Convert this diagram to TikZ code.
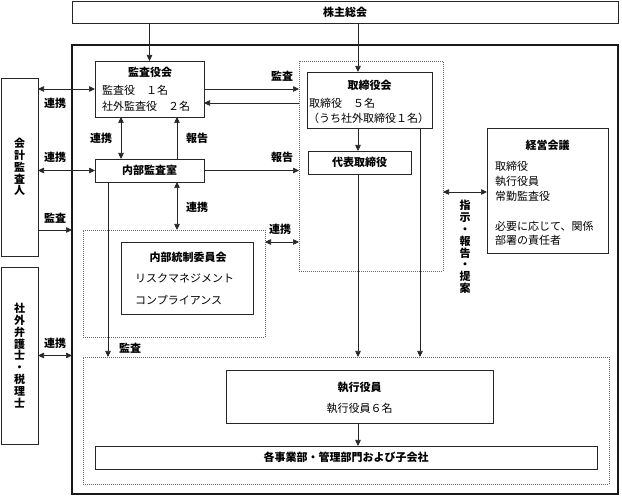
\documentclass[tikz,border=0pt]{standalone}
\usepackage{fontspec}
\setmainfont{Noto Sans CJK JP}
\usetikzlibrary{arrows.meta,calc}
\newcommand\myvtfont{\bfseries\fontsize{11}{11.8}\selectfont\lineskiplimit=-100pt\relax\lineskip=0pt\relax}
\tikzset{
  box/.style={draw=black!85, line width=0.7pt, inner sep=0pt, outer sep=0pt},
  bigbox/.style={draw=black!90, line width=1.6pt, inner sep=0pt, outer sep=0pt},
  dbox/.style={draw=black!60, line width=0.6pt, dash pattern=on 1pt off 1pt, inner sep=0pt, outer sep=0pt},
  tt/.style={font=\bfseries\fontsize{11}{13}\selectfont, inner sep=0pt},
  bt/.style={font=\fontsize{11}{13}\selectfont, inner sep=0pt, anchor=west},
  lab/.style={font=\bfseries\fontsize{11}{13}\selectfont, inner sep=0pt},
  vt/.style={font=\myvtfont, align=center, inner sep=0pt},
  conn/.style={draw=black!85, line width=0.7pt},
  arr/.style={conn, -{Triangle[length=6pt,width=5.5pt]}},
  darr/.style={conn, {Triangle[length=6pt,width=5.5pt]}-{Triangle[length=6pt,width=5.5pt]}},
}
\begin{document}
\begin{tikzpicture}[x=1pt,y=-1pt]
\useasboundingbox (0,0) rectangle (622,497);
% boxes
\node[box, minimum width=546pt, minimum height=22pt] (soukai) at (345,12) {};
\node[bigbox, minimum width=546pt, minimum height=449pt] (big) at (345,269.5) {};
\node[box, minimum width=37pt, minimum height=178pt] (kaikei) at (19.5,167) {};
\node[box, minimum width=37pt, minimum height=177pt] (bengo) at (19.5,355.5) {};
\node[box, minimum width=109pt, minimum height=56pt] (kansa) at (149.5,89) {};
\node[box, minimum width=109pt, minimum height=23pt] (naibu) at (149.5,170.5) {};
\node[dbox, minimum width=182pt, minimum height=107pt] (ictl) at (174,283.5) {};
\node[box, minimum width=132pt, minimum height=72pt] (iinkai) at (187,278) {};
\node[dbox, minimum width=144pt, minimum height=210pt] (tdash) at (371,166) {};
\node[box, minimum width=125pt, minimum height=56pt] (tori) at (369.5,100) {};
\node[box, minimum width=103pt, minimum height=23pt] (daihyo) at (359.5,162.5) {};
\node[box, minimum width=121pt, minimum height=125pt] (keiei) at (547.5,190.5) {};
\node[dbox, minimum width=526pt, minimum height=127pt] (exdash) at (346,420.5) {};
\node[box, minimum width=267pt, minimum height=53pt] (shikko) at (359.5,396.5) {};
\node[box, minimum width=502pt, minimum height=23pt] (kaku) at (346,457.5) {};
% helper coordinates
\coordinate (xA) at (358,0);
\coordinate (xB) at (420,0);
\coordinate (xC) at (121,0);
\coordinate (xD) at (177,0);
\coordinate (xF) at (108,0);
\coordinate (yA) at (0,230);
\coordinate (yB) at (0,103);
\coordinate (yC) at (0,242);
\coordinate (yD) at (0,192);
% texts in boxes
\node[tt] (tSoukai) at (345,12) {株主総会};
\node[tt] (tKansa) at (150,72) {監査役会};
\node[bt] (tKansa1) at (102,90) {監査役　１名};
\node[bt] (tKansa2) at (102,106) {社外監査役　２名};
\node[tt] (tNaibu) at (149.5,170.5) {内部監査室};
\node[tt] (tIinkai) at (188,257) {内部統制委員会};
\node[bt] (tIinkai1) at (135,278) {リスクマネジメント};
\node[bt] (tIinkai2) at (135,300) {コンプライアンス};
\node[tt] (tTori) at (369.5,85) {取締役会};
\node[bt] (tTori1) at (309,103) {取締役　５名};
\node[bt] (tTori2) at (308,118) {（うち社外取締役１名）};
\node[tt] (tDaihyo) at (359.5,162.5) {代表取締役};
\node[tt] (tKeiei) at (547.5,145) {経営会議};
\node[bt] (tKeiei1) at (495,166) {取締役};
\node[bt] (tKeiei2) at (495,181) {執行役員};
\node[bt] (tKeiei3) at (495,196) {常勤監査役};
\node[bt] (tKeiei4) at (495,226) {必要に応じて、関係};
\node[bt] (tKeiei5) at (495,240) {部署の責任者};
\node[tt] (tShikko) at (359.5,387) {執行役員};
\node[font=\fontsize{11}{13}\selectfont, inner sep=0pt] (tShikko1) at (359.5,408) {執行役員６名};
\node[tt] (tKaku) at (346,457.5) {各事業部・管理部門および子会社};
\node[vt] (tKaikei) at (19.5,167) {会\\計\\監\\査\\人};
\node[vt] (tBengo) at (19.5,355.5) {社\\外\\弁\\護\\士\\・\\税\\理\\士};
% connectors
\draw[arr] (kansa.north |- soukai.south) -- (kansa.north);
\draw[arr] (soukai.south -| xA) -- (tori.north -| xA);
\draw[arr] (tori.south -| xA) -- (daihyo.north -| xA);
\draw[arr] (daihyo.south -| xA) -- (exdash.north -| xA);
\draw[arr] (tori.south -| xB) -- (exdash.north -| xB);
\draw[arr] (shikko.south -| xA) -- (kaku.north -| xA);
\draw[darr] (kaikei.east |- kansa.west) -- (kansa.west);
\draw[darr] (kaikei.east |- naibu.west) -- (naibu.west);
\draw[arr] (kaikei.east |- yA) -- (big.west |- yA);
\draw[darr] (bengo.east) -- (big.west |- bengo.east);
\draw[arr] (kansa.east) -- (tdash.west |- kansa.east);
\draw[arr] (tdash.west |- yB) -- (kansa.east |- yB);
\draw[arr] (naibu.east) -- (tdash.west |- naibu.east);
\draw[darr] (kansa.south -| xC) -- (naibu.north -| xC);
\draw[arr] (naibu.north -| xD) -- (kansa.south -| xD);
\draw[darr] (naibu.south -| xD) -- (ictl.north -| xD);
\draw[darr] (ictl.east |- yC) -- (tdash.west |- yC);
\draw[arr] (naibu.south -| xF) -- (exdash.north -| xF);
\draw[darr] (tdash.east |- yD) -- (keiei.west |- yD);
% connector labels
\node[lab] (l1) at (55,103) {連携};
\node[lab] (l2) at (55,157) {連携};
\node[lab] (l3) at (55,218) {監査};
\node[lab] (l4) at (55,343) {連携};
\node[lab] (l5) at (101,138) {連携};
\node[lab] (l6) at (197,138) {報告};
\node[lab] (l7) at (282,76) {監査};
\node[lab] (l8) at (282,157) {報告};
\node[lab] (l9) at (197,207) {連携};
\node[lab] (l10) at (280,229) {連携};
\node[lab] (l11) at (130,348) {監査};
\node[vt] (l12) at (465,247) {指\\示\\・\\報\\告\\・\\提\\案};
\end{tikzpicture}
\end{document}
